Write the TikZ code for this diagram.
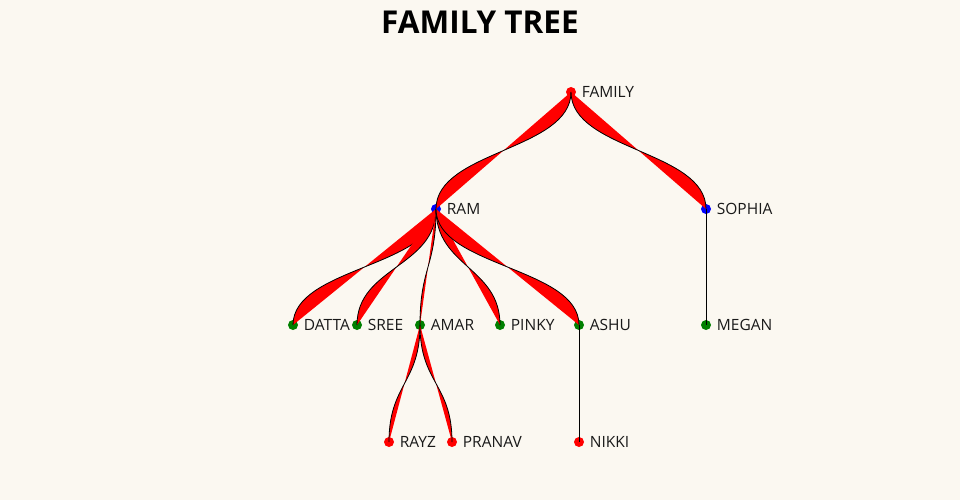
\documentclass[tikz,border=0pt]{standalone}
\usepackage{fontspec}
\setmainfont{Open Sans}
\usetikzlibrary{calc}
\definecolor{bgcream}{HTML}{FBF8F1}
\definecolor{kidgreen}{HTML}{008000}
\tikzset{
  person/.style={circle,inner sep=0pt,minimum size=10pt,fill=#1},
  who/.style={font=\fontsize{15.5}{18}\selectfont,inner sep=0pt,text=black!90},
  link/.style={draw=black,line width=0.8pt,fill=red,
    to path={let \p1=(\tikztostart),\p2=(\tikztotarget) in
      .. controls (\x1,{(\y1+\y2)/2}) and (\x2,{(\y1+\y2)/2}) .. (\tikztotarget)}},
  every label/.style={who},
  label distance=5.5pt
}

\begin{document}
\begin{tikzpicture}[x=1pt,y=-1pt]
  \fill[bgcream] (0,0) rectangle (960,500);
  \useasboundingbox (0,0) rectangle (960,500);

  \node[font=\bfseries\fontsize{31.5}{36}\selectfont] (title) at (480,22) {FAMILY TREE};

  % people
  \node[person=red,label=0:FAMILY] (family) at (571,92) {};
  \node[person=blue,label=0:RAM] (ram) at (436,209) {};
  \node[person=blue,label=0:SOPHIA] (sophia) at (706,209) {};
  \node[person=kidgreen,label=0:DATTA] (datta) at (293,325) {};
  \node[person=kidgreen,label=0:SREE] (sree) at (357,325) {};
  \node[person=kidgreen,label=0:AMAR] (amar) at (420,325) {};
  \node[person=kidgreen,label=0:PINKY] (pinky) at (500,325) {};
  \node[person=kidgreen,label=0:ASHU] (ashu) at (579,325) {};
  \node[person=kidgreen,label=0:MEGAN] (megan) at (706,325) {};
  \node[person=red,label=0:RAYZ] (rayz) at (389,442) {};
  \node[person=red,label=0:PRANAV] (pranav) at (452,442) {};
  \node[person=red,label=0:NIKKI] (nikki) at (579,442) {};

  % links
  \foreach \a/\b in {family/ram,family/sophia,ram/datta,ram/sree,ram/amar,
                     ram/pinky,ram/ashu,sophia/megan,amar/rayz,amar/pranav,ashu/nikki}
    \draw[link] (\a.center) to (\b.center);
\end{tikzpicture}
\end{document}
